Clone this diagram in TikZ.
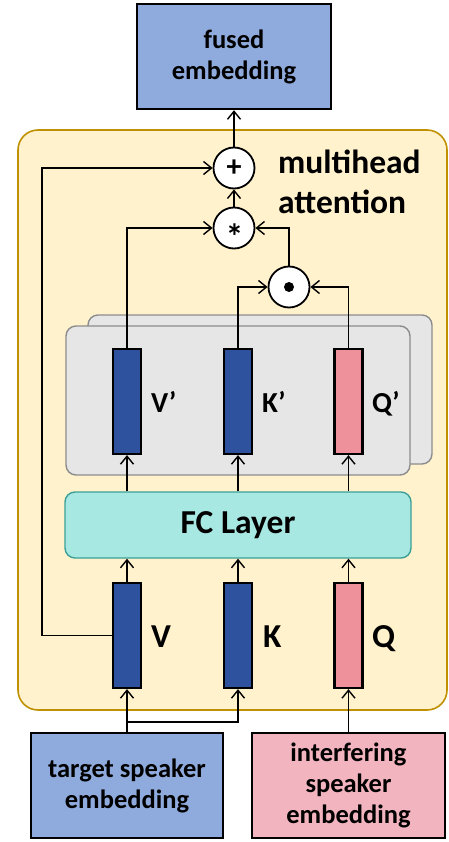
\documentclass[tikz,border=0pt]{standalone}
\usepackage{fontspec}
\setmainfont{Carlito}
\usetikzlibrary{arrows.meta,calc}
\definecolor{lightblue}{RGB}{143,170,220}
\definecolor{darkblue}{RGB}{47,82,158}
\definecolor{lightpink}{RGB}{242,180,190}
\definecolor{darkpink}{RGB}{238,145,155}
\definecolor{contfill}{RGB}{255,242,204}
\definecolor{contdraw}{RGB}{191,144,0}
\definecolor{panelfill}{RGB}{230,230,230}
\definecolor{paneldraw}{RGB}{140,140,140}
\definecolor{fcfill}{RGB}{168,232,226}
\definecolor{fcdraw}{RGB}{60,160,152}
\tikzset{
  bigbox/.style={draw=black, line width=2.4pt, inner sep=0pt, align=center,
    font=\fontsize{26.5}{31}\selectfont\bfseries},
  vec/.style={draw=black, line width=2.2pt, inner sep=0pt, minimum width=28, minimum height=105},
  opcirc/.style={circle, draw=black, fill=white, line width=1.8pt, minimum size=41, inner sep=0pt},
  panel/.style={draw=paneldraw, fill=panelfill, line width=1.4pt, rounded corners=10pt,
    minimum width=344, minimum height=149, inner sep=0pt},
  lbl/.style={inner sep=0pt, anchor=base west, font=\fontsize{33.5}{40}\selectfont\bfseries},
  lblp/.style={inner sep=0pt, anchor=base west, font=\fontsize{29}{34}\selectfont\bfseries},
  arr/.style={draw=black, line width=1.4pt, -{Straight Barb[length=8pt,width=13pt,line width=1.4pt]}},
  conn/.style={draw=black, line width=1.4pt}
}
\begin{document}
\begin{tikzpicture}[x=1pt,y=-1pt]
\useasboundingbox (0,0) rectangle (448,842);
% container
\node[draw=contdraw, fill=contfill, line width=1.6pt, rounded corners=20pt,
  minimum width=429, minimum height=580, inner sep=0pt] (cont) at (232.5,420) {};
% fused embedding
\node[bigbox, fill=lightblue, minimum width=194, minimum height=105] (fused) at (234,56.5) {fused\\embedding};
% panels
\node[panel] (back) at (260,389.5) {};
\node[panel] (front) at (238,400.5) {};
% FC layer
\node[draw=fcdraw, fill=fcfill, line width=1.4pt, rounded corners=10pt, minimum width=346, minimum height=66,
  inner sep=0pt, font=\fontsize{33.5}{40}\selectfont\bfseries] (fc) at (238,525) {FC Layer};
% primed vectors
\node[vec, fill=darkblue] (Vp) at (127,401.5) {};
\node[vec, fill=darkblue] (Kp) at (238,401.5) {};
\node[vec, fill=darkpink] (Qp) at (348.5,401.5) {};
\node[lblp] (Vpl) at (151,412) {V’};
\node[lblp] (Kpl) at (262,412) {K’};
\node[lblp] (Qpl) at (372,412) {Q’};
% input vectors
\node[vec, fill=darkblue] (V) at (127,635.5) {};
\node[vec, fill=darkblue] (K) at (238,635.5) {};
\node[vec, fill=darkpink] (Q) at (348.5,635.5) {};
\node[lbl] (Vl) at (151,647) {V};
\node[lbl] (Kl) at (263,647) {K};
\node[lbl] (Ql) at (372,647) {Q};
% bottom boxes
\node[bigbox, fill=lightblue, minimum width=192, minimum height=105] (target) at (127,785.5) {target speaker\\embedding};
\node[bigbox, fill=lightpink, minimum width=193, minimum height=105] (interf) at (348.5,785.5) {interfering\\speaker\\embedding};
% operator circles
\node[opcirc, font=\fontsize{30}{34}\selectfont\bfseries] (plus) at (234,168) {+};
\node[opcirc] (star) at (234,228) {};
\node[inner sep=0pt, font=\fontsize{36}{40}\selectfont\bfseries] (starsym) at (234.5,237) {*};
\node[opcirc] (dot) at (289,287) {};
\node[circle, fill=black, minimum size=10, inner sep=0pt] (dotsym) at (dot.center) {};
% multihead attention label
\node[inner sep=0pt, anchor=north west, align=left, font=\fontsize{33.5}{40}\selectfont\bfseries] (mha) at (278,150) {multihead\\attention};
% connectors
\coordinate (skipx) at (42,0);
\coordinate (br) at (127,722);
\draw[arr] (plus) -- (fused);
\draw[arr] (star) -- (plus);
\draw[arr] (V.west) -- (V.west -| skipx) |- (plus.west);
\draw[arr] (Vp.north) |- (star.west);
\draw[arr] (dot.north) |- (star.east);
\draw[arr] (Kp.north) |- (dot.west);
\draw[arr] (Qp.north) |- (dot.east);
\draw[arr] (Vp.south |- fc.north) -- (Vp.south);
\draw[arr] (Kp.south |- fc.north) -- (Kp.south);
\draw[arr] (Qp.south |- fc.north) -- (Qp.south);
\draw[arr] (V.north) -- (V.north |- fc.south);
\draw[arr] (K.north) -- (K.north |- fc.south);
\draw[arr] (Q.north) -- (Q.north |- fc.south);
\draw[arr] (target.north) -- (V.south);
\draw[arr] (br) -| (K.south);
\draw[arr] (interf.north) -- (Q.south);
\end{tikzpicture}
\end{document}
